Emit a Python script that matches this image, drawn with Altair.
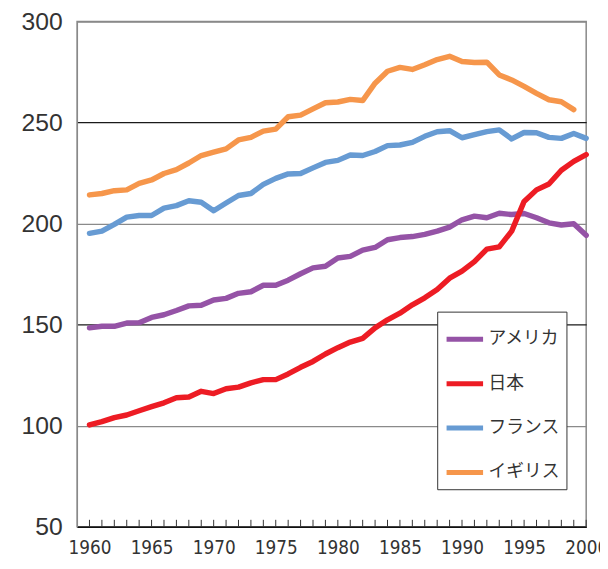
import altair as alt
import pandas as pd

years = list(range(1960, 2001))

usa = [148.4, 149.2, 149.2, 150.8, 151.0, 153.6, 154.9, 157.0, 159.3, 159.6,
       162.2, 163.0, 165.5, 166.3, 169.5, 169.5, 172.0, 175.2, 178.1, 178.9,
       183.0, 183.8, 186.9, 188.2, 192.0, 193.1, 193.6, 194.7, 196.3, 198.3,
       201.9, 203.7, 202.9, 205.1, 204.5, 205.0, 202.9, 200.4, 199.3, 199.9,
       194.2]
japan = [100.4, 102.0, 104.0, 105.3, 107.4, 109.4, 111.3, 113.8, 114.2, 117.0,
         115.9, 118.3, 119.1, 121.2, 122.8, 122.8, 125.6, 128.9, 131.8, 135.5,
         138.6, 141.4, 143.2, 148.4, 152.4, 155.7, 159.8, 163.3, 167.4, 173.0,
         176.5, 181.2, 187.4, 188.5, 196.3, 211.0, 216.7, 219.6, 226.4, 230.8,
         234.2]
france = [195.2, 196.3, 199.6, 203.2, 204.0, 204.0, 207.7, 208.9, 211.3, 210.6,
          206.4, 210.2, 213.9, 214.9, 219.4, 222.4, 224.6, 224.8, 227.6, 230.3,
          231.3, 234.0, 233.7, 235.7, 238.6, 238.9, 240.2, 243.2, 245.5, 246.0,
          242.5, 244.0, 245.5, 246.4, 241.9, 245.1, 245.0, 242.7, 242.2, 244.6,
          242.2]
uk = [214.2, 214.9, 216.3, 216.7, 219.9, 221.6, 224.8, 226.7, 230.0, 233.7,
      235.4, 237.0, 241.4, 242.7, 245.8, 246.8, 252.9, 253.7, 256.8, 259.8,
      260.2, 261.5, 260.9, 269.5, 275.4, 277.3, 276.3, 278.6, 281.2, 282.8,
      280.2, 279.7, 279.9, 273.6, 271.1, 267.9, 264.5, 261.3, 260.3, 256.4,
      None]

countries = ["アメリカ", "日本", "フランス", "イギリス"]
colors = ["#9553a6", "#ed1c24", "#679bd3", "#f6964b"]
series = [usa, japan, france, uk]

y_ticks = [50, 100, 150, 200, 250, 300]
x_labels = [1960, 1965, 1970, 1975, 1980, 1985, 1990, 1995, 2000]

rows = []
for name, vals in zip(countries, series):
    for yr, v in zip(years, vals):
        if v is not None:
            rows.append({"year": yr, "value": v, "country": name})
df = pd.DataFrame(rows)
ticks_df = pd.DataFrame({"year": years})

x_scale = alt.Scale(domain=[1959, 2000], nice=False, zero=False)

lines = alt.Chart(df).mark_line(strokeWidth=5.5, strokeCap="round", strokeJoin="round").encode(
    x=alt.X("year:Q", scale=x_scale,
            axis=alt.Axis(values=x_labels, format="d", title=None, ticks=False,
                          labelPadding=12, labelFontSize=19,
                          labelFont="Liberation Sans Narrow, Arial Narrow, DejaVu Sans Condensed, sans-serif",
                          labelColor="#333333", domainColor="#111111", domainWidth=1.5,
                          grid=False, labelFlush=False)),
    y=alt.Y("value:Q", scale=alt.Scale(domain=[50, 300], nice=False, zero=False),
            axis=alt.Axis(values=y_ticks, title=None, ticks=False, labelPadding=15,
                          labelFontSize=25, labelFont="Liberation Sans",
                          labelColor="#333333", domainColor="#888888",
                          grid=True,
                          gridColor={"condition": {"test": "datum.value % 100 === 0", "value": "#8a8a8a"},
                                     "value": "#1a1a1a"},
                          gridWidth=1.2)),
    color=alt.Color("country:N",
                    scale=alt.Scale(domain=countries, range=colors),
                    legend=alt.Legend(title=None, orient="none", legendX=365, legendY=294,
                                      symbolType="stroke", symbolSize=1369, symbolStrokeWidth=5,
                                      labelFontSize=18, labelFont="Noto Sans CJK JP",
                                      labelColor="#333333", labelOffset=3, rowPadding=14,
                                      padding=7, fillColor="white", strokeColor="#333333")),
    order=alt.Order("country:N")
)

tick_marks = alt.Chart(ticks_df).mark_rule(color="#333333", strokeWidth=1).encode(
    x=alt.X("year:Q", scale=x_scale),
    y=alt.value(512),
    y2=alt.value(505),
)

chart = alt.layer(tick_marks, lines).properties(
    width=516, height=512,
    padding={"left": 70, "top": 10, "right": 14, "bottom": 31},
    autosize="none",
).configure_view(stroke="#888888", strokeWidth=1.5)

chart.save("out.html", embed_options={"renderer": "svg", "actions": False})
